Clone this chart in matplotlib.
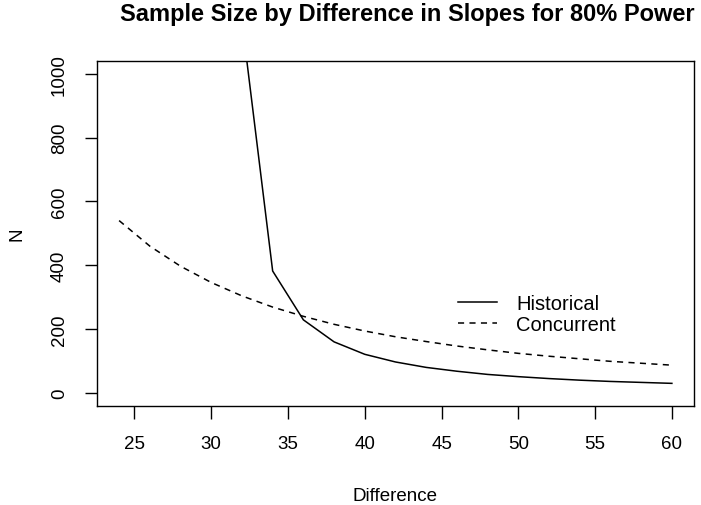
import matplotlib
matplotlib.use("Agg")
import matplotlib.pyplot as plt

# sample size needed at each difference in slopes
diff_hist = [32, 34, 36, 38, 40, 42, 44, 46, 48, 50, 52, 54, 56, 58, 60]
n_hist = [1165, 382, 229, 160, 121, 97, 80, 68, 58, 51, 45, 40, 36, 33, 30]

diff_conc = [24, 26, 28, 30, 32, 34, 36, 38, 40, 42, 44, 46, 48, 50, 52, 54, 56, 58, 60]
n_conc = [540, 460, 397, 346, 304, 269, 240, 215, 194, 176, 161, 147, 135, 124, 115, 107, 99, 93, 87]

xticks = [25, 30, 35, 40, 45, 50, 55, 60]
yticks = [0, 200, 400, 600, 800, 1000]

plt.rcParams['font.family'] = ['Liberation Sans', 'DejaVu Sans']

fig = plt.figure(figsize=(7.01, 5.06), dpi=100)
ax = fig.add_axes([97/701, 1 - 406.7/506, (694 - 97)/701, (406.7 - 62)/506])

ax.plot(diff_hist, n_hist, color='black', lw=1.1, label='Historical')
ax.plot(diff_conc, n_conc, color='black', lw=1.1, ls=(0, (4, 3.5)), label='Concurrent')

ax.set_xlim(22.56, 61.44)
ax.set_ylim(-40, 1040)
ax.set_xticks(xticks)
ax.set_yticks(yticks)
ax.set_yticklabels([str(v) for v in yticks], rotation=90, va='center')
ax.tick_params(axis='both', direction='out', length=9, width=1, labelsize=13.5, pad=12)
for s in ax.spines.values():
    s.set_linewidth(1)

ax.set_xlabel('Difference', fontsize=13.5, labelpad=25)
ax.set_ylabel('N', fontsize=13.5, labelpad=18)
fig.text(407/701, 1 - 14/506, 'Sample Size by Difference in Slopes for 80% Power',
         ha='center', va='center', fontsize=17, fontweight='bold')

ax.legend(loc='upper left', bbox_to_anchor=((458 - 97)/(694 - 97), (406.7 - 295)/(406.7 - 62)),
          frameon=False, fontsize=14.5, handlelength=1.95, handletextpad=0.95,
          labelspacing=0.1, borderaxespad=0, borderpad=0)

fig.savefig('out.png', dpi=100)
